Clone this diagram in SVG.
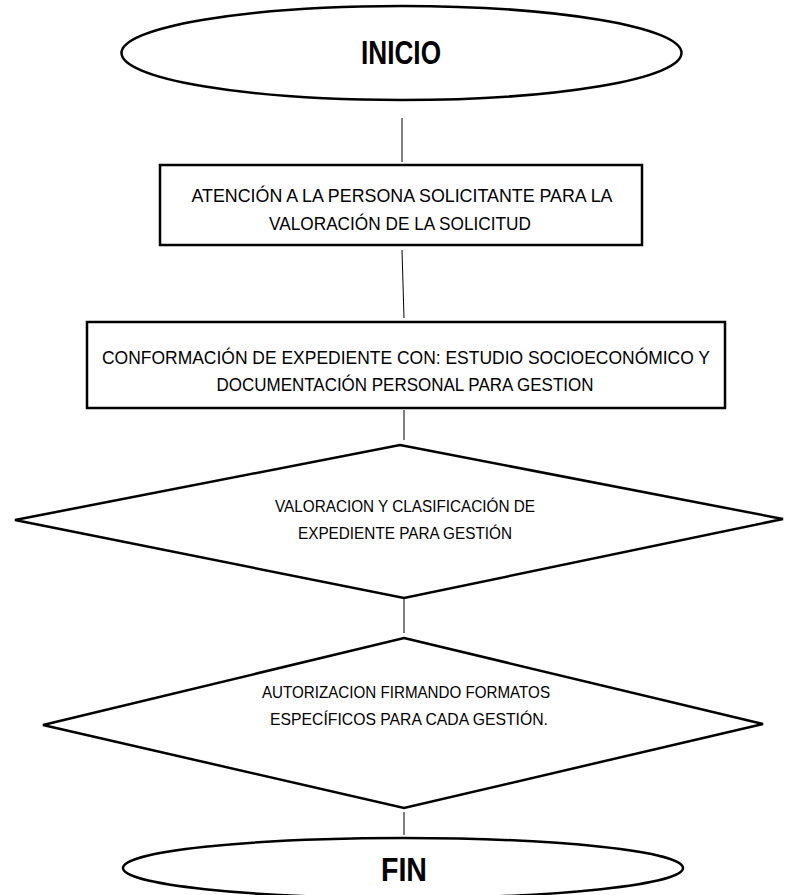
<svg xmlns="http://www.w3.org/2000/svg" width="786" height="895" viewBox="0 0 786 895">
  <style>
    .shape { fill: #ffffff; stroke: #000000; stroke-width: 2.5; }
    .conn { stroke: #000000; stroke-width: 1; fill: none; }
    .label { font-family: "Liberation Sans Narrow", "Liberation Sans", Arial, sans-serif; fill: #000000; text-anchor: middle; }
    .big { font-size: 33px; font-weight: bold; }
    .mid { font-size: 19px; }
    .small { font-size: 16.5px; }
  </style>
  <rect x="0" y="0" width="786" height="895" fill="#ffffff"/>

  <g id="connectors">
    <line class="conn" x1="402" y1="118" x2="402" y2="162"/>
    <line class="conn" x1="402" y1="250" x2="404" y2="318"/>
    <line class="conn" x1="404" y1="410" x2="404" y2="440"/>
    <line class="conn" x1="404" y1="598" x2="404" y2="633"/>
    <line class="conn" x1="404" y1="812" x2="404" y2="835"/>
  </g>

  <g id="inicio">
    <ellipse class="shape" cx="401.5" cy="53" rx="280" ry="47"/>
    <text class="label big" x="401" y="64" textLength="80" lengthAdjust="spacingAndGlyphs">INICIO</text>
  </g>

  <g id="atencion">
    <rect class="shape" x="160" y="165" width="482" height="80"/>
    <text class="label mid" x="402" y="202" textLength="421" lengthAdjust="spacingAndGlyphs">ATENCIÓN A LA PERSONA SOLICITANTE PARA LA</text>
    <text class="label mid" x="400" y="230" textLength="262" lengthAdjust="spacingAndGlyphs">VALORACIÓN DE LA SOLICITUD</text>
  </g>

  <g id="conformacion">
    <rect class="shape" x="87" y="322" width="638" height="86"/>
    <text class="label mid" x="406" y="364" textLength="608" lengthAdjust="spacingAndGlyphs">CONFORMACIÓN DE EXPEDIENTE CON: ESTUDIO SOCIOECONÓMICO Y</text>
    <text class="label mid" x="405" y="391" textLength="377" lengthAdjust="spacingAndGlyphs">DOCUMENTACIÓN PERSONAL PARA GESTION</text>
  </g>

  <g id="valoracion">
    <polygon class="shape" points="400,445 783,519 404,598 15,520"/>
    <text class="label small" x="405" y="512" textLength="260" lengthAdjust="spacingAndGlyphs">VALORACION Y CLASIFICACIÓN DE</text>
    <text class="label small" x="405" y="539" textLength="214" lengthAdjust="spacingAndGlyphs">EXPEDIENTE PARA GESTIÓN</text>
  </g>

  <g id="autorizacion">
    <polygon class="shape" points="404,638 763,724 404,808 43,725"/>
    <text class="label small" x="406" y="698" textLength="288" lengthAdjust="spacingAndGlyphs">AUTORIZACION FIRMANDO FORMATOS</text>
    <text class="label small" x="409" y="725" textLength="278" lengthAdjust="spacingAndGlyphs">ESPECÍFICOS PARA CADA GESTIÓN.</text>
  </g>

  <g id="fin">
    <ellipse class="shape" cx="403" cy="868" rx="280" ry="30"/>
    <text class="label big" x="404" y="881" textLength="46" lengthAdjust="spacingAndGlyphs">FIN</text>
  </g>
</svg>
